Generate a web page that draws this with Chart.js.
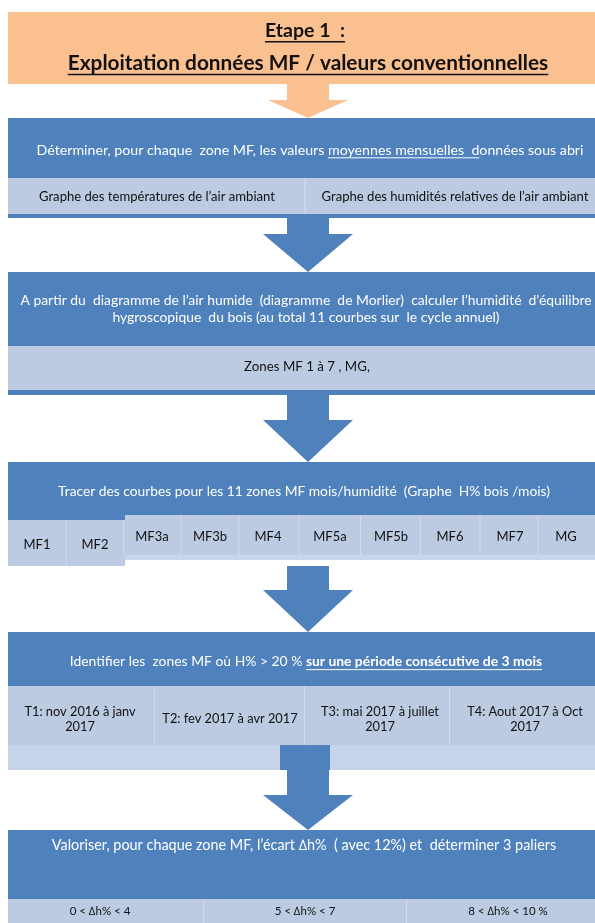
<!DOCTYPE html>
<html lang="fr">
<head>
<meta charset="UTF-8">
<title>Etape 1 - Exploitation données MF</title>
<script src="https://cdn.jsdelivr.net/npm/chart.js"></script>
<style>
    body { margin: 0; background: #ffffff; }
    #flow { display: block; }
</style>
</head>
<body>
<canvas id="flow" width="595" height="923"></canvas>
<script>
    // texts of the flowchart
    const headerLines = ['Etape 1  :', 'Exploitation données MF / valeurs conventionnelles'];
    const step1Lines = [[
        { t: 'Déterminer, pour chaque  zone MF, les valeurs ' },
        { t: 'moyennes mensuelles  d', u: true },
        { t: 'onnées sous abri' }
    ]];
    const step1Cells = ['Graphe des températures de l’air ambiant', 'Graphe des humidités relatives de l’air ambiant'];
    const step2Lines = [
        [{ t: 'A partir du  diagramme de l’air humide  (diagramme  de Morlier)  calculer l’humidité  d’équilibre' }],
        [{ t: 'hygroscopique  du bois (au total 11 courbes sur  le cycle annuel)' }]
    ];
    const step2Cells = ['Zones MF 1 à 7 , MG,'];
    const step3Lines = [[{ t: 'Tracer des courbes pour les 11 zones MF mois/humidité  (Graphe  H% bois /mois)' }]];
    const zoneLabels = ['MF1', 'MF2', 'MF3a', 'MF3b', 'MF4', 'MF5a', 'MF5b', 'MF6', 'MF7', 'MG'];
    const step4Lines = [[
        { t: 'Identifier les  zones MF où H% > 20 % ' },
        { t: 'sur une période consécutive de 3 mois', u: true, b: true }
    ]];
    const periodLabels = [
        ['T1: nov 2016 à janv', '2017'],
        ['T2: fev 2017 à avr 2017'],
        ['T3: mai 2017 à juillet', '2017'],
        ['T4: Aout 2017 à Oct', '2017']
    ];
    const step5Lines = [[{ t: 'Valoriser, pour chaque zone MF, l’écart \u2206h%  ( avec 12%) et  déterminer 3 paliers' }]];
    const levelLabels = ['0 < \u2206h% < 4', '5 < \u2206h% < 7', '8 < \u2206h% < 10 %'];

    const ORANGE = '#FAC08F';
    const BLUE = '#4F81BD';
    const LIGHT = '#BCCBE2';
    const FONT = 'Lato, "Open Sans", sans-serif';

    const flowPlugin = {
        id: 'flow',
        afterDraw(chart) {
            const ctx = chart.ctx;
            const sx = v => chart.scales.x.getPixelForValue(v);
            const sy = v => chart.scales.y.getPixelForValue(v);

            function rect(x0, y0, x1, y1, color) {
                ctx.fillStyle = color;
                ctx.fillRect(sx(x0), sy(y0), sx(x1) - sx(x0), sy(y1) - sy(y0));
            }
            function arrow(cx, y0, y1, yHead, shaftW, headW, color) {
                ctx.fillStyle = color;
                ctx.beginPath();
                ctx.moveTo(sx(cx - shaftW / 2), sy(y0));
                ctx.lineTo(sx(cx + shaftW / 2), sy(y0));
                ctx.lineTo(sx(cx + shaftW / 2), sy(yHead));
                ctx.lineTo(sx(cx + headW / 2), sy(yHead));
                ctx.lineTo(sx(cx), sy(y1));
                ctx.lineTo(sx(cx - headW / 2), sy(yHead));
                ctx.lineTo(sx(cx - shaftW / 2), sy(yHead));
                ctx.closePath();
                ctx.fill();
            }
            // one line made of runs, centred on cx
            function runs(line, cx, y, size, color, bold) {
                const fonts = line.map(r => ((r.b || bold) ? 'bold ' : '') + size + 'px ' + FONT);
                let total = 0;
                const widths = line.map((r, i) => { ctx.font = fonts[i]; const w = ctx.measureText(r.t).width; total += w; return w; });
                let x = sx(cx) - total / 2;
                ctx.textBaseline = 'middle';
                ctx.textAlign = 'left';
                ctx.fillStyle = color;
                ctx.strokeStyle = color;
                line.forEach((r, i) => {
                    ctx.font = fonts[i];
                    ctx.fillText(r.t, x, sy(y));
                    if (r.u) {
                        ctx.lineWidth = size > 15 ? 1.6 : 1;
                        ctx.beginPath();
                        ctx.moveTo(x, sy(y) + size * 0.55);
                        ctx.lineTo(x + widths[i], sy(y) + size * 0.55);
                        ctx.stroke();
                    }
                    x += widths[i];
                });
            }
            function lines(ls, cx, y, size, lh, color, bold) {
                const top = y - (ls.length - 1) * lh / 2;
                ls.forEach((l, i) => runs(typeof l === 'string' ? [{ t: l }] : l, cx, top + i * lh, size, color, bold));
            }

            // header
            rect(8, 12, 595, 84, ORANGE);
            runs([{ t: headerLines[0], u: true }], 305, 31, 19.5, '#111', true);
            runs([{ t: headerLines[1], u: true }], 308, 63, 20.8, '#111', true);
            arrow(308, 84, 118, 100, 42, 80, ORANGE);

            // step 1
            rect(8, 118, 595, 180, BLUE);
            lines(step1Lines, 310, 150, 14.2, 16, '#fff');
            rect(8, 180, 595, 218, BLUE);
            rect(8, 178, 305, 214, LIGHT);
            rect(306, 178, 595, 214, LIGHT);
            rect(304, 178, 306, 214, '#c9d5e8');
            runs([{ t: step1Cells[0] }], 157, 197, 13.1, '#111');
            runs([{ t: step1Cells[1] }], 455, 197, 13.1, '#111');
            arrow(308, 218, 272, 234, 42, 90, BLUE);

            // step 2
            rect(8, 272, 595, 395, BLUE);
            lines(step2Lines, 306, 309, 13.9, 17, '#fff');
            rect(8, 346, 595, 390, LIGHT);
            runs([{ t: step2Cells[0] }], 307, 367, 13.3, '#111');
            arrow(308, 395, 462, 420, 42, 90, BLUE);

            // step 3
            rect(8, 462, 595, 560, BLUE);
            lines(step3Lines, 304, 492, 13.8, 16, '#fff');
            rect(8, 520, 125, 566, LIGHT);
            rect(125, 515, 595, 555, LIGHT);
            rect(125, 555, 595, 560, '#c9d5e8');
            const zoneX = [37, 95, 152, 210, 268, 330, 391, 450, 510, 566];
            zoneLabels.forEach((z, i) => {
                const yy = i < 2 ? 545 : 537;
                runs([{ t: z }], zoneX[i], yy, 13, '#111');
                if (i > 0) rect((zoneX[i - 1] + zoneX[i]) / 2 - 0.5, i < 3 ? 520 : 515, (zoneX[i - 1] + zoneX[i]) / 2 + 0.5, i < 2 ? 566 : 555, '#cfd9ea');
            });
            arrow(308, 566, 632, 590, 42, 90, BLUE);

            // step 4
            rect(8, 632, 595, 770, BLUE);
            lines(step4Lines, 306, 662, 13.9, 16, '#fff');
            rect(8, 686, 595, 745, LIGHT);
            rect(8, 745, 280, 770, '#c6d3e8');
            rect(330, 745, 595, 770, '#c6d3e8');
            const periodX = [80, 230, 380, 525];
            periodLabels.forEach((p, i) => {
                lines(p, periodX[i], 719, 12.8, 15, '#111');
                if (i > 0) rect(periodX[i] - 76, 686, periodX[i] - 75, 745, '#d0dbec');
            });
            arrow(308, 770, 830, 795, 42, 90, BLUE);

            // step 5
            rect(8, 830, 595, 900, BLUE);
            lines(step5Lines, 304, 845, 14.4, 16, '#fff');
            rect(8, 899, 595, 923, LIGHT);
            const levelX = [100, 305, 508];
            levelLabels.forEach((l, i) => {
                runs([{ t: l }], levelX[i], 911, 11.5, '#111');
                if (i > 0) rect(levelX[i] - 102, 899, levelX[i] - 101, 923, '#d0dbec');
            });
        }
    };

    new Chart(document.getElementById('flow'), {
        type: 'scatter',
        data: { datasets: [{ data: [], pointRadius: 0 }] },
        options: {
            responsive: false,
            animation: false,
            layout: { padding: 0 },
            plugins: { legend: { display: false }, tooltip: { enabled: false } },
            scales: {
                x: { type: 'linear', min: 0, max: 595, display: false },
                y: { type: 'linear', min: 0, max: 923, reverse: true, display: false }
            }
        },
        plugins: [flowPlugin]
    });
</script>
</body>
</html>
